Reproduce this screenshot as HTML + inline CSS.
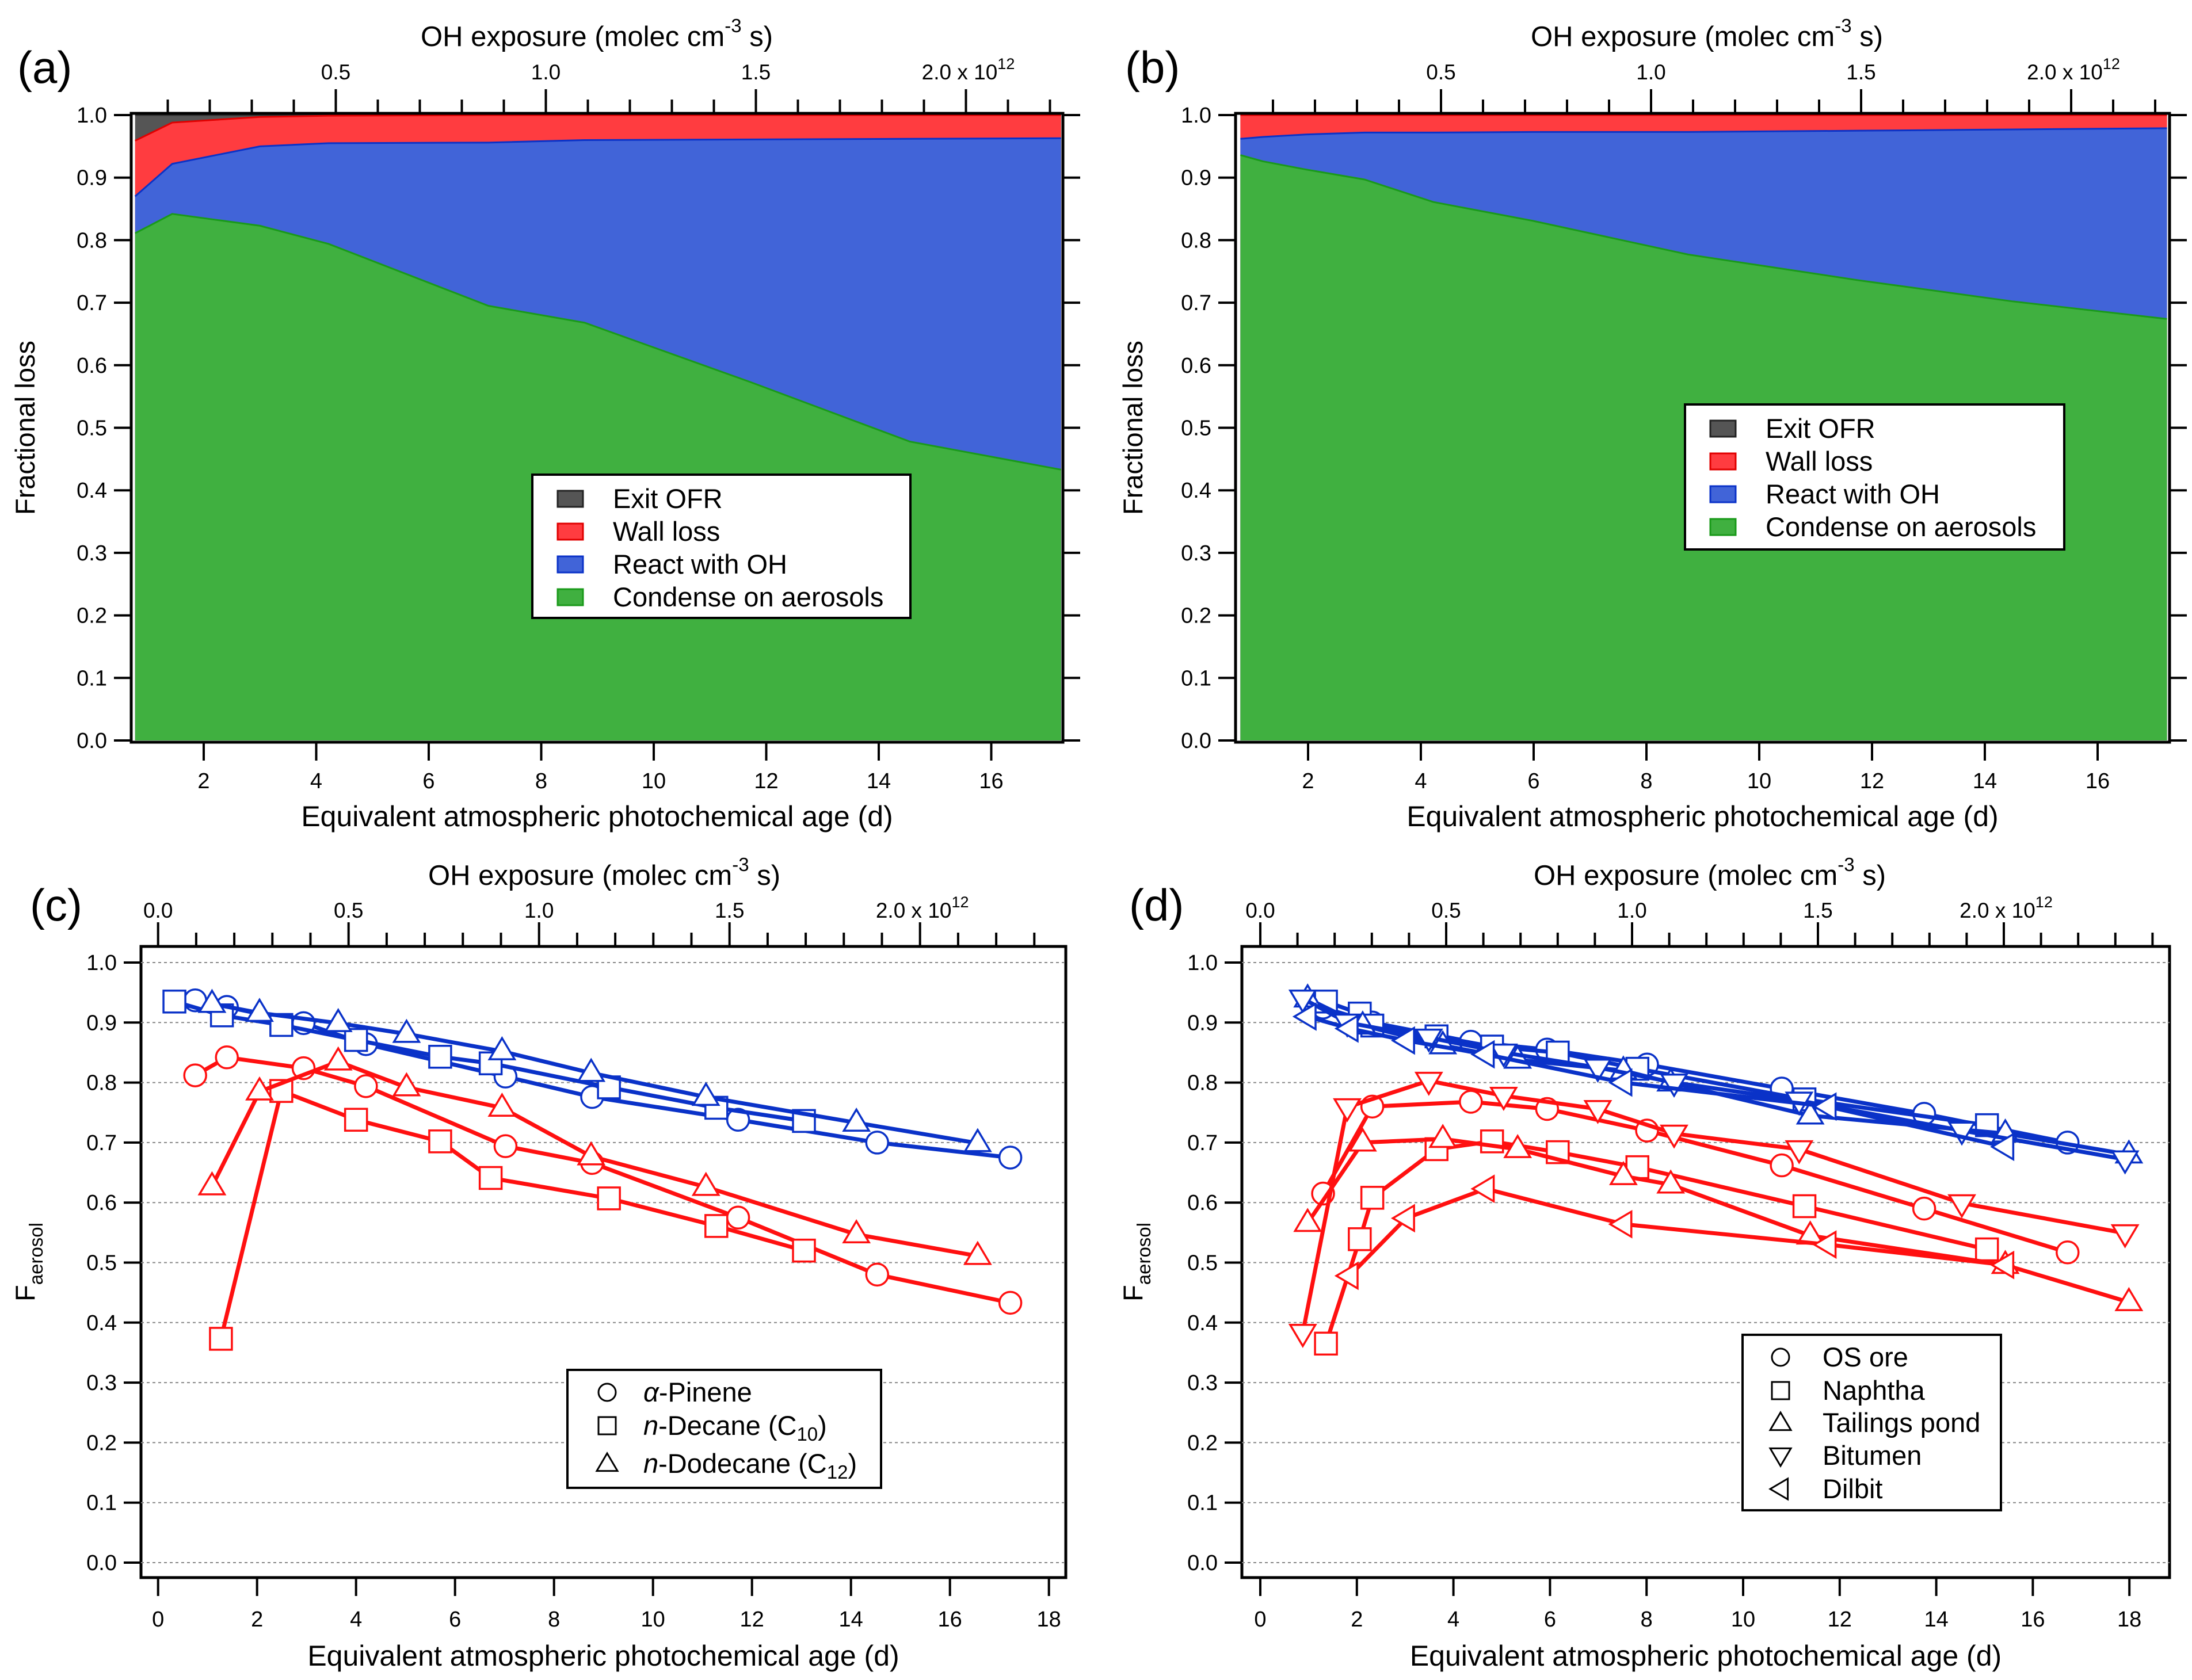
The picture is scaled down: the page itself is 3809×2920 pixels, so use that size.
<!DOCTYPE html>
<html><head><meta charset="utf-8"><style>
html,body{margin:0;padding:0;background:#fff;}
svg{display:block;font-family:"Liberation Sans",Arial,sans-serif;}
</style></head>
<body>
<svg id="fig" xmlns="http://www.w3.org/2000/svg" width="3809" height="2920" viewBox="0 0 3809 2920"></svg>
<script>
// ---------- Panel (a) data ----------
const agesA=[0.78,1.44,3.0,4.22,7.06,8.77,11.72,14.55,17.24];
const condA=[0.811,0.842,0.823,0.794,0.695,0.668,0.573,0.478,0.433];
const reactA=[0.059,0.080,0.127,0.161,0.261,0.292,0.388,0.484,0.530];
const wallA=[0.089,0.066,0.047,0.044,0.044,0.040,0.039,0.038,0.037];
const exitA=[0.041,0.012,0.003,0.001,0,0,0,0,0];
// ---------- Panel (b) data ----------
const agesB=[0.8,1.2,1.96,3.0,4.22,5.98,8.74,11.75,14.5,17.23];
const condB=[0.936,0.926,0.913,0.897,0.861,0.831,0.777,0.736,0.702,0.674];
const reactB=[0.026,0.039,0.056,0.075,0.111,0.142,0.196,0.239,0.275,0.305];
const wallB=[0.038,0.035,0.031,0.028,0.028,0.027,0.027,0.025,0.023,0.021];
const exitB=[0,0,0,0,0,0,0,0,0,0];
// ---------- Panel (c) data ----------
const pinAge=[0.75,1.39,2.94,4.20,7.02,8.77,11.72,14.53,17.22];
const pinRed=[0.812,0.842,0.824,0.794,0.694,0.666,0.575,0.480,0.433];
const pinBlue=[0.937,0.926,0.899,0.864,0.810,0.776,0.738,0.700,0.675];
const decAgeRed=[1.27,2.49,4.0,5.70,6.72,9.11,11.28,13.05];
const decRed=[0.373,0.786,0.738,0.702,0.641,0.607,0.561,0.520];
const decAgeBlue=[0.33,1.29,2.49,4.0,5.70,6.72,9.11,11.28,13.05];
const decBlue=[0.935,0.912,0.896,0.871,0.843,0.832,0.792,0.758,0.736];
const dodAge=[1.09,2.05,3.64,5.02,6.95,8.75,11.07,14.11,16.56];
const dodRed=[0.627,0.785,0.835,0.792,0.758,0.677,0.626,0.547,0.511];
const dodBlue=[0.931,0.916,0.899,0.881,0.852,0.816,0.776,0.733,0.699];
// ---------- Panel (d) data ----------
const oreAge=[1.30,2.32,4.36,5.94,8.01,10.80,13.75,16.72];
const oreRed=[0.615,0.760,0.768,0.756,0.720,0.662,0.590,0.517];
const oreBlue=[0.925,0.900,0.868,0.855,0.830,0.790,0.748,0.700];
const napAge=[1.36,2.06,2.32,3.65,4.80,6.16,7.81,11.27,15.05];
const napRed=[0.365,0.539,0.608,0.689,0.702,0.684,0.659,0.594,0.522];
const napBlue=[0.935,0.915,0.895,0.877,0.860,0.850,0.823,0.772,0.729];
const tailAge=[0.98,2.12,3.78,5.33,7.52,8.50,11.39,15.43,17.99];
const tailRed=[0.566,0.700,0.706,0.689,0.644,0.630,0.545,0.496,0.434];
const tailBlue=[0.940,0.895,0.862,0.838,0.820,0.800,0.745,0.715,0.680];
const bitAge=[0.88,1.80,3.49,5.04,6.99,8.57,11.16,14.53,17.91];
const bitRed=[0.383,0.759,0.803,0.778,0.756,0.715,0.689,0.599,0.549];
const bitBlue=[0.940,0.900,0.875,0.850,0.825,0.800,0.770,0.720,0.672];
const dilAgeBlue=[0.98,1.85,3.02,4.67,7.52,11.75,15.43];
const dilBlue=[0.910,0.890,0.870,0.847,0.800,0.760,0.693];
const dilAgeRed=[1.85,3.02,4.67,7.52,11.75,15.43];
const dilRed=[0.478,0.574,0.623,0.564,0.530,0.496];
// tick labels
const fracTicks=["0.0","0.1","0.2","0.3","0.4","0.5","0.6","0.7","0.8","0.9","1.0"];
const ageTicksAB=[2,4,6,8,10,12,14,16];
const ageTicksCD=[0,2,4,6,8,10,12,14,16,18];
const ohLabelsAB=["0.5","1.0","1.5","2.0"];
const ohLabelsCD=["0.0","0.5","1.0","1.5","2.0"];

const NS="http://www.w3.org/2000/svg";
const svg=document.getElementById('fig');
function mk(tag,attrs,parent){const e=document.createElementNS(NS,tag);for(const k in attrs)e.setAttribute(k,attrs[k]);(parent||svg).appendChild(e);return e;}
function txt(s,x,y,size,anchor,parent){const t=mk('text',{x:x,y:y,'font-size':size,'text-anchor':anchor||'middle',fill:'#000'},parent);t.textContent=s;return t;}

const RED='#ff1010', BLUE='#0a32c8';

function axesCommon(P,g,isArea){
  const fr=mk('rect',{x:P.L,y:P.T,width:P.R-P.L,height:P.B-P.T,fill:'none',stroke:'#000','stroke-width':5},g);
  
  for(let i=0;i<=10;i++){const v=i/10;const y=P.y(v);
    mk('line',{x1:P.L-30,x2:P.L,y1:y,y2:y,stroke:'#000','stroke-width':4},g);
    if(isArea) mk('line',{x1:P.R,x2:P.R+30,y1:y,y2:y,stroke:'#000','stroke-width':4},g);
    else mk('line',{x1:P.L,x2:P.R,y1:y,y2:y,stroke:'#888','stroke-width':2,'stroke-dasharray':'5,5'},g);
    const t=txt(fracTicks[i],P.L-42,y+13,38,'end',g);
    
  }
  P.ageTicks.forEach(d=>{const x=P.x(d);
    mk('line',{x1:x,x2:x,y1:P.B,y2:P.B+32,stroke:'#000','stroke-width':4},g);
    const t=txt(String(d),x,P.tickY,38,'middle',g);
    
  });
  for(let k=P.ohMin;k<=P.ohMax;k++){const o=k/10;const x=P.ox(o);const major=(k%5===0);
    mk('line',{x1:x,x2:x,y1:P.T,y2:P.T-(major?42:24),stroke:'#000','stroke-width':4},g);
  }
  P.ohLabels.forEach(s=>{const o=parseFloat(s);const x=P.ox(o);
    if(s==="2.0"){
      const t=mk('text',{x:x+4,y:P.topTickY,'font-size':37,'text-anchor':'middle'},g);
      
      t.appendChild(document.createTextNode('2.0 x 10'));
      const s2=mk('tspan',{dy:-18,'font-size':27},t);s2.textContent='12';
    } else {
      const t=txt(s,x,P.topTickY,37,'middle',g);
      
    }
  });
  const tt=mk('text',{x:P.topTitleX,y:P.topTitleY,'font-size':49,'text-anchor':'middle'},g);
  
  tt.appendChild(document.createTextNode('OH exposure (molec cm'));
  const sp=mk('tspan',{dy:-24,'font-size':33},tt);sp.textContent='-3';
  const sp2=mk('tspan',{dy:24,'font-size':49},tt);sp2.textContent=' s)';
  const xt=txt('Equivalent atmospheric photochemical age (d)',(P.L+P.R)/2,P.xTitleY,50,'middle',g);
  
  const yc=(P.T+P.B)/2;
  let yt;
  if(isArea){
    yt=mk('text',{x:0,y:0,'font-size':47,'text-anchor':'middle',transform:`translate(${P.yTitleX},${yc}) rotate(-90)`},g);
    yt.textContent='Fractional loss';
  } else {
    yt=mk('text',{x:0,y:0,'font-size':47,'text-anchor':'middle',transform:`translate(${P.yTitleX},${yc}) rotate(-90)`},g);
    yt.appendChild(document.createTextNode('F'));
    const s=mk('tspan',{dy:14,'font-size':33},yt);s.textContent='aerosol';
  }
  
  const pl=txt(P.label,P.labX,P.labY,78,'start',g);
  
}

function areaPanel(P,ages,cond,react,wall,exit){
  const g=mk('g',{});
  
  const n=ages.length;
  const c1=cond, c2=cond.map((v,i)=>v+react[i]), c3=c2.map((v,i)=>v+wall[i]), c4=c3.map((v,i)=>v+exit[i]);
  const layers=[[c4,'#555555','#333','area-exit-ofr'],[c3,'#ff3c40','#e00000','area-wall-loss'],[c2,'#4164d8','#0a32c8','area-react-oh'],[c1,'#40b040','#1a9a1a','area-condense']];
  layers.forEach(([top,fill,st,nm])=>{
    let pts=ages.map((a,i)=>P.x(a)+','+P.y(top[i]));
    pts.push(P.x(ages[n-1])+','+P.y(0));pts.push(P.x(ages[0])+','+P.y(0));
    const pg=mk('polygon',{points:pts.join(' '),fill:fill},g);
    
    mk('polyline',{points:ages.map((a,i)=>P.x(a)+','+P.y(top[i])).join(' '),fill:'none',stroke:st,'stroke-width':3},g);
  });
  axesCommon(P,g,true);
  const lg=mk('g',{},g);
  mk('rect',{x:P.lgX,y:P.lgY,width:P.lgW,height:P.lgH,fill:'#fff',stroke:'#000','stroke-width':4},lg);
  const items=[['Exit OFR','#555555','#222'],['Wall loss','#ff3c40','#e00000'],['React with OH','#4164d8','#0a32c8'],['Condense on aerosols','#40b040','#1a9a1a']];
  items.forEach((it,i)=>{const yy=P.lgY+42+i*57;
    const e=mk('g',{},lg);
    mk('rect',{x:P.lgX+44,y:yy-14,width:44,height:28,fill:it[1],stroke:it[2],'stroke-width':3},e);
    txt(it[0],P.lgX+140,yy+16,47,'start',e);
  });
}

function mkScalesAB(px2,perDay,oh05){
  return {x:d=>px2+(d-2)*perDay,y:v=>1287-v*1087,ox:o=>oh05+(o-0.5)*730};
}
const PA=Object.assign({name:'panel-a',L:228,R:1847,T:197,B:1290,ageTicks:ageTicksAB,ohMin:1,ohMax:22,ohLabels:ohLabelsAB,
  tickY:1370,topTickY:138,topTitleX:1037,topTitleY:80,xTitleY:1436,yTitleX:60,label:'(a)',labX:30,labY:144,
  lgX:925,lgY:825,lgW:657,lgH:249},mkScalesAB(354,97.75,583.5));
const PB=Object.assign({name:'panel-b',L:2147,R:3770,T:197,B:1290,ageTicks:ageTicksAB,ohMin:1,ohMax:22,ohLabels:ohLabelsAB,
  tickY:1370,topTickY:138,topTitleX:2966,topTitleY:80,xTitleY:1436,yTitleX:1985,label:'(b)',labX:1955,labY:144,
  lgX:2928,lgY:703,lgW:659,lgH:252},mkScalesAB(2273,98,2504));
areaPanel(PA,agesA,condA,reactA,wallA,exitA);
areaPanel(PB,agesB,condB,reactB,wallB,exitB);

function marker(g,shape,x,y,color,sw){
  const r=19;let e;
  if(shape==='circle') e=mk('circle',{cx:x,cy:y,r:r,fill:'#fff',stroke:color,'stroke-width':sw||3.5},g);
  else if(shape==='square') e=mk('rect',{x:x-r,y:y-r,width:2*r,height:2*r,fill:'#fff',stroke:color,'stroke-width':sw||3.5},g);
  else {
    const a=23;let pts;
    if(shape==='up') pts=[[x,y-a],[x+a*0.95,y+a*0.6],[x-a*0.95,y+a*0.6]];
    else if(shape==='down') pts=[[x,y+a],[x+a*0.95,y-a*0.6],[x-a*0.95,y-a*0.6]];
    else pts=[[x-a,y],[x+a*0.6,y-a*0.95],[x+a*0.6,y+a*0.95]];
    e=mk('polygon',{points:pts.map(p=>p.join(',')).join(' '),fill:'#fff',stroke:color,'stroke-width':sw||3.5},g);
  }
  return e;
}
function series(P,g,ages,vals,shape,color,nm){
  const sg=mk('g',{},g);
  
  mk('polyline',{points:ages.map((a,i)=>P.x(a)+','+P.y(vals[i])).join(' '),fill:'none',stroke:color,'stroke-width':7,'stroke-linejoin':'round'},sg);
  ages.forEach((a,i)=>{const m=marker(sg,shape,P.x(a),P.y(vals[i]),color);
    });
}
function scatterPanel(P,list,legendItems){
  const g=mk('g',{});
  
  mk('rect',{x:P.L,y:P.T,width:P.R-P.L,height:P.B-P.T,fill:'#fff'},g);
  axesCommon(P,g,false);
  list.forEach(s=>series(P,g,s[0],s[1],s[2],s[3],s[4]));
  const lg=mk('g',{},g);
  mk('rect',{x:P.lgX,y:P.lgY,width:P.lgW,height:P.lgH,fill:'#fff',stroke:'#000','stroke-width':4},lg);
  legendItems.forEach((it,i)=>{const yy=P.lgRows[i];
    const e=mk('g',{},lg);
    const m=it[0];
    if(m==='circle') mk('circle',{cx:P.lgMX,cy:yy,r:15,fill:'#fff',stroke:'#000','stroke-width':3},e);
    else if(m==='square') mk('rect',{x:P.lgMX-15,y:yy-15,width:30,height:30,fill:'#fff',stroke:'#000','stroke-width':3},e);
    else{const a=18;let pts;const x=P.lgMX,y=yy;
      if(m==='up') pts=[[x,y-a],[x+a,y+a*0.7],[x-a,y+a*0.7]];
      else if(m==='down') pts=[[x,y+a],[x+a,y-a*0.7],[x-a,y-a*0.7]];
      else pts=[[x-a,y],[x+a*0.7,y-a],[x+a*0.7,y+a]];
      mk('polygon',{points:pts.map(p=>p.join(',')).join(' '),fill:'#fff',stroke:'#000','stroke-width':3},e);}
    const t=mk('text',{x:P.lgTX,y:yy+16,'font-size':47,'text-anchor':'start'},e);
    it[1].forEach(part=>{const sp=mk('tspan',part[1]||{},t);sp.textContent=part[0];});
  });
}
const PC={name:'panel-c',L:245,R:1852,T:1645,B:2742,x:d=>274.7+d*86.0,y:v=>2716-v*1043,ox:o=>274.7+o*662,
  ageTicks:ageTicksCD,ohMin:0,ohMax:23,ohLabels:ohLabelsCD,tickY:2827,topTickY:1595,topTitleX:1050,topTitleY:1538,
  xTitleY:2895,yTitleX:60,label:'(c)',labX:52,labY:1600,
  lgX:986,lgY:2381,lgW:545,lgH:205,lgMX:1055,lgTX:1118,lgRows:[2420,2478,2544]};
const PD={name:'panel-d',L:2158,R:3770,T:1645,B:2742,x:d=>2190+d*83.9,y:v=>2716-v*1043,ox:o=>2190+o*646,
  ageTicks:ageTicksCD,ohMin:0,ohMax:24,ohLabels:ohLabelsCD,tickY:2827,topTickY:1595,topTitleX:2971,topTitleY:1538,
  xTitleY:2895,yTitleX:1985,label:'(d)',labX:1962,labY:1600,
  lgX:3028,lgY:2320,lgW:449,lgH:305,lgMX:3094,lgTX:3167,lgRows:[2359,2417,2473,2530,2588]};
scatterPanel(PC,[
  [pinAge,pinBlue,'circle',BLUE,'series-pinene-blue'],
  [decAgeBlue,decBlue,'square',BLUE,'series-decane-blue'],
  [dodAge,dodBlue,'up',BLUE,'series-dodecane-blue'],
  [pinAge,pinRed,'circle',RED,'series-pinene-red'],
  [decAgeRed,decRed,'square',RED,'series-decane-red'],
  [dodAge,dodRed,'up',RED,'series-dodecane-red']
],[
  ['circle',[['α',{'font-style':'italic'}],['-Pinene']]],
  ['square',[['n',{'font-style':'italic'}],['-Decane (C'],['10',{'font-size':33,dy:10}],[')',{dy:-10}]]],
  ['up',[['n',{'font-style':'italic'}],['-Dodecane (C'],['12',{'font-size':33,dy:10}],[')',{dy:-10}]]]
]);
scatterPanel(PD,[
  [oreAge,oreBlue,'circle',BLUE,'series-os-ore-blue'],
  [napAge,napBlue,'square',BLUE,'series-naphtha-blue'],
  [tailAge,tailBlue,'up',BLUE,'series-tailings-blue'],
  [bitAge,bitBlue,'down',BLUE,'series-bitumen-blue'],
  [dilAgeBlue,dilBlue,'left',BLUE,'series-dilbit-blue'],
  [oreAge,oreRed,'circle',RED,'series-os-ore-red'],
  [napAge,napRed,'square',RED,'series-naphtha-red'],
  [tailAge,tailRed,'up',RED,'series-tailings-red'],
  [bitAge,bitRed,'down',RED,'series-bitumen-red'],
  [dilAgeRed,dilRed,'left',RED,'series-dilbit-red']
],[
  ['circle',[['OS ore']]],['square',[['Naphtha']]],['up',[['Tailings pond']]],['down',[['Bitumen']]],['left',[['Dilbit']]]
]);
</script>
</body></html>
